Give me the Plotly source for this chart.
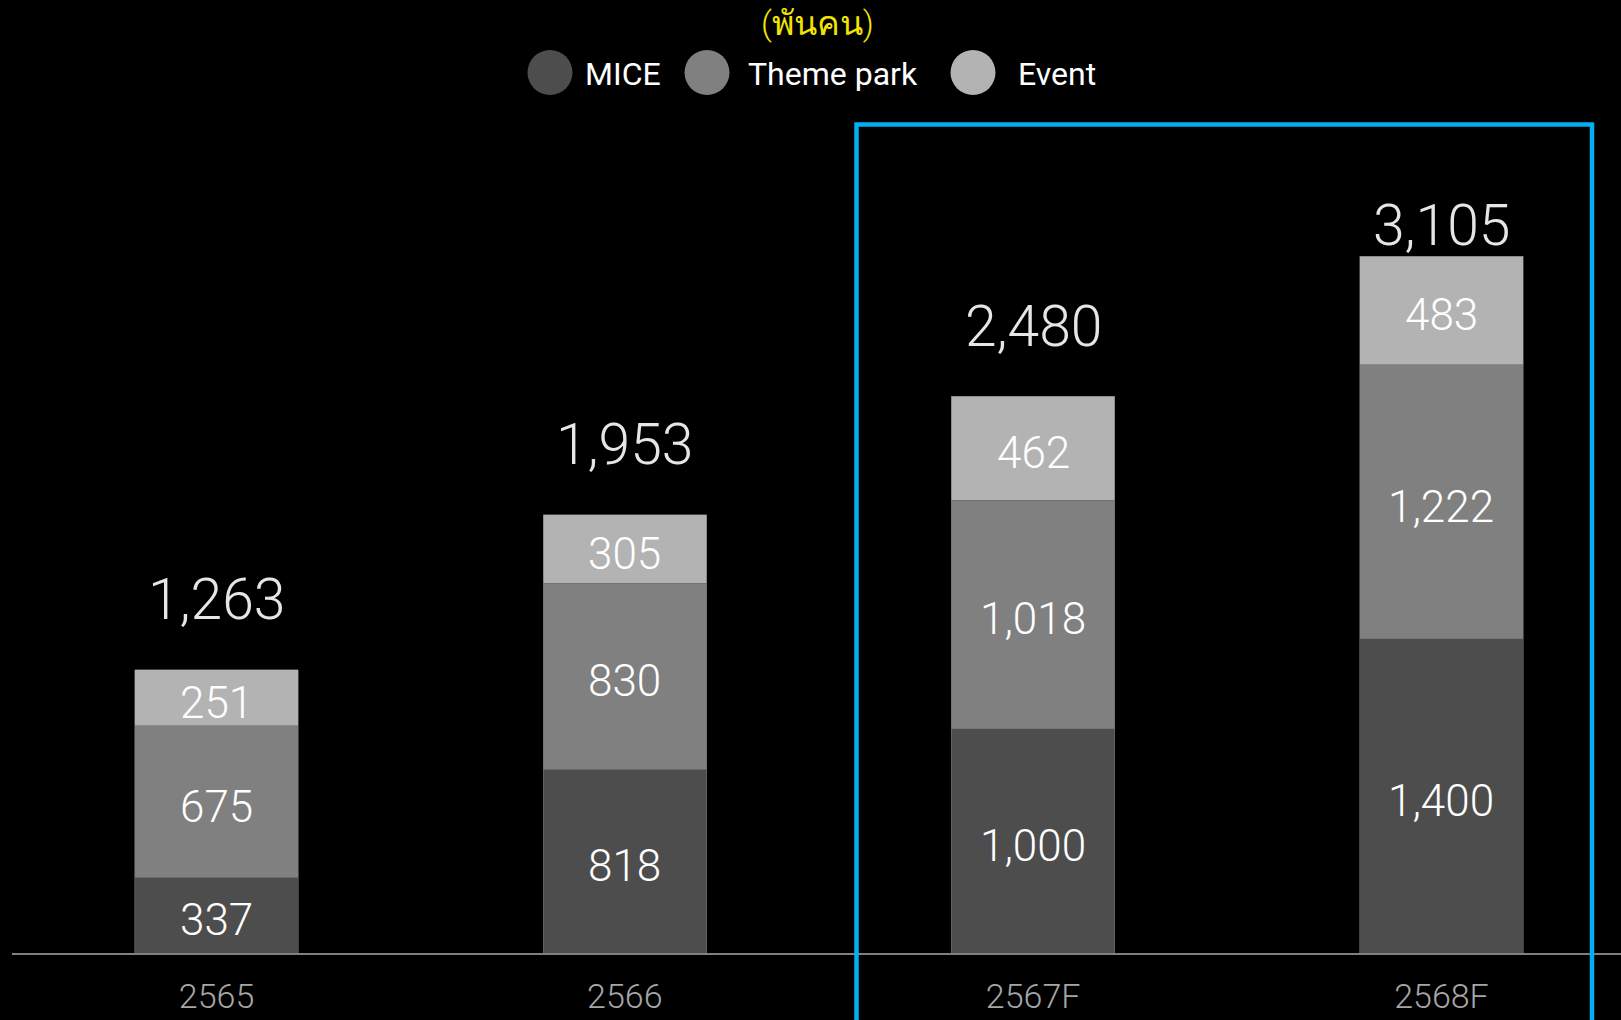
import plotly.graph_objects as go

# ---------------- data ----------------
years = ["2565", "2566", "2567F", "2568F"]
mice = [337, 818, 1000, 1400]
theme_park = [675, 830, 1018, 1222]
event = [251, 305, 462, 483]
totals = [1263, 1953, 2480, 3105]
series_names = ["MICE", "Theme park", "Event"]
unit_title = "(พันคน)"

# ---------------- styling ----------------
colors = ["#4d4d4d", "#808080", "#b3b3b3"]
FONT = "Roboto, DejaVu Sans Condensed, sans-serif"
W, H = 1621, 1020
ML, MR, MT, MB = 12, 0, 124, 67
PW, PH = W - ML - MR, H - MT - MB

def px_x(px):
    return (px - ML) / PW

def px_y(py):
    return (H - MB - py) / PH

fig = go.Figure()
series = [mice, theme_park, event]
for name, vals, col in zip(series_names, series, colors):
    fig.add_trace(go.Bar(
        x=years, y=vals, name=name, width=0.4,
        marker=dict(color=col, line=dict(color="#707070", width=0.6)),
        showlegend=False, hoverinfo="skip",
    ))

# segment value labels (centred in each stacked segment); x = category index
base = [0] * len(years)
for vals in series:
    for i, v in enumerate(vals):
        fig.add_annotation(x=i, y=base[i] + v / 2, xref="x", yref="y",
                           text=f"{v:,}", showarrow=False, yanchor="middle", yshift=-5,
                           font=dict(family=FONT, size=44, color="#ffffff", weight=300))
        base[i] += v

# total labels above bars
label_gap = [70, 70, 70, 31]
for i, (tot, gap) in enumerate(zip(totals, label_gap)):
    fig.add_annotation(x=i, y=tot, xref="x", yref="y", text=f"{tot:,}",
                       showarrow=False, yanchor="middle", yshift=gap,
                       font=dict(family=FONT, size=57, color="#e6e6e6", weight=300))

# manual legend (large circles)
legend_items = [(550, 583), (707, 746), (973, 1016)]
for (cx, tx), name, col in zip(legend_items, series_names, colors):
    fig.add_shape(type="circle", xref="paper", yref="paper",
                  xsizemode="pixel", ysizemode="pixel",
                  xanchor=px_x(cx), yanchor=px_y(72.5),
                  x0=-22.5, x1=22.5, y0=-22.5, y1=22.5,
                  fillcolor=col, line=dict(width=0))
    fig.add_annotation(x=px_x(tx), y=px_y(74), xref="paper", yref="paper",
                       text=name, showarrow=False, xanchor="left", yanchor="middle",
                       font=dict(family=FONT, size=32, color="#ffffff", weight=400))

# unit title
fig.add_annotation(x=px_x(817), y=px_y(23), xref="paper", yref="paper",
                   text=unit_title, showarrow=False, xanchor="center", yanchor="middle",
                   font=dict(family=FONT, size=34, color="#f2e600", weight=300))

# forecast highlight box
fig.add_shape(type="rect", xref="paper", yref="paper",
              x0=px_x(856.5), x1=px_x(1592), y0=px_y(1040), y1=px_y(124.5),
              line=dict(color="#00b0f0", width=4.5), fillcolor="rgba(0,0,0,0)")

fig.update_layout(
    width=W, height=H,
    margin=dict(l=ML, r=MR, t=MT, b=MB, pad=0),
    barmode="stack",
    paper_bgcolor="#000000", plot_bgcolor="#000000",
    showlegend=False,
    font=dict(family=FONT, color="#ffffff"),
    xaxis=dict(type="category", range=[-0.5009, 3.4397], showgrid=False, zeroline=False,
               showline=True, linecolor="#808080", linewidth=2,
               ticks="", tickfont=dict(family=FONT, size=34, color="#a6a6a6", weight=300),
               ticklabelstandoff=12, fixedrange=True),
    yaxis=dict(range=[0, 829 / 0.2244], visible=False, showgrid=False,
               zeroline=False, fixedrange=True),
)

fig.write_html("out.html", config={"displayModeBar": False},
               post_script="document.body.style.margin='0px';document.body.style.background='#000';")
